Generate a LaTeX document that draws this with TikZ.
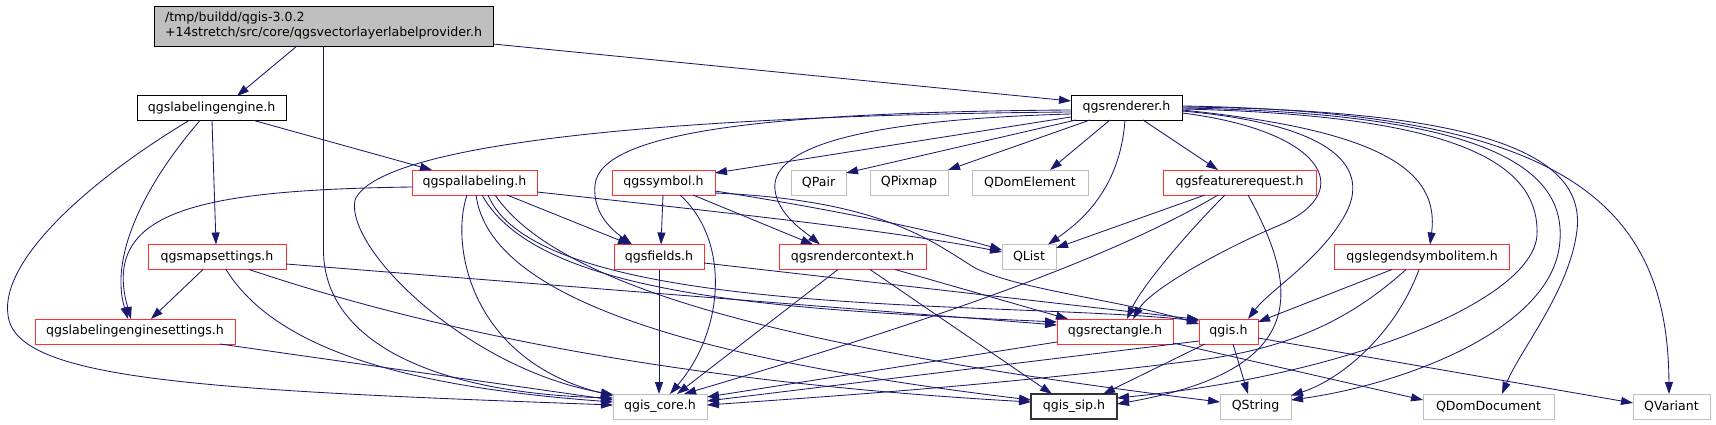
\documentclass[tikz,border=0pt]{standalone}
\usepackage{fontspec}
\setmainfont{DejaVu Sans}
\usetikzlibrary{arrows.meta}
\definecolor{edgec}{HTML}{191970}
\definecolor{redb}{HTML}{FF3030}
\definecolor{grayb}{HTML}{BFBFBF}
\begin{document}
\begin{tikzpicture}[x=1pt,y=-1pt,
  nbox/.style={draw, rectangle, inner sep=0pt, minimum height=25pt, font=\fontsize{12.6}{15}\selectfont, line width=0.9pt},
  redbox/.style={nbox, draw=redb},
  graybox/.style={nbox, draw=grayb},
  blackbox/.style={nbox, draw=black},
  sipbox/.style={nbox, draw=black!80, line width=1.5pt},
  conn/.style={draw=edgec, line width=0.85pt, -{Triangle[length=12pt,width=8pt]}},
]
\useasboundingbox (0,0) rectangle (1716,425);
% nodes
\node[nbox, fill=grayb, draw=black, minimum width=339pt, minimum height=40pt, align=left] (root) at (323.5,26) {/tmp/buildd/qgis-3.0.2\\+14stretch/src/core/qgsvectorlayerlabelprovider.h};
\node[blackbox, minimum width=149pt] (le) at (211.5,108) {qgslabelingengine.h};
\node[blackbox, minimum width=111pt] (rd) at (1126.5,107.5) {qgsrenderer.h};
\node[redbox, minimum width=125pt] (pal) at (474.5,182.5) {qgspallabeling.h};
\node[redbox, minimum width=103pt] (sym) at (663.5,182.5) {qgssymbol.h};
\node[graybox, minimum width=55pt] (qpair) at (818.5,182.5) {QPair};
\node[graybox, minimum width=78pt] (qpix) at (909,182.5) {QPixmap};
\node[graybox, minimum width=116pt] (qdome) at (1030,182.5) {QDomElement};
\node[redbox, minimum width=153pt] (fr) at (1239.5,182.5) {qgsfeaturerequest.h};
\node[redbox, minimum width=138pt] (ms) at (217,257) {qgsmapsettings.h};
\node[redbox, minimum width=90pt] (fld) at (659,257) {qgsfields.h};
\node[redbox, minimum width=147pt] (rc) at (852.5,257) {qgsrendercontext.h};
\node[graybox, minimum width=54pt] (ql) at (1029,257) {QList};
\node[redbox, minimum width=175pt] (lsi) at (1422,257) {qgslegendsymbolitem.h};
\node[redbox, minimum width=200pt] (les) at (135,331.5) {qgslabelingenginesettings.h};
\node[redbox, minimum width=116pt] (rect) at (1115,331.5) {qgsrectangle.h};
\node[redbox, minimum width=59pt] (qgis) at (1228.5,331.5) {qgis.h};
\node[graybox, minimum width=94pt] (core) at (660,406.5) {qgis\_core.h};
\node[sipbox, minimum width=86pt] (sip) at (1074,406.5) {qgis\_sip.h};
\node[graybox, minimum width=71pt] (qstr) at (1255.5,406.5) {QString};
\node[graybox, minimum width=131pt] (qdd) at (1488.5,406.5) {QDomDocument};
\node[graybox, minimum width=77pt] (qvar) at (1671.5,406.5) {QVariant};
% root
\draw[conn] ([shift={(-26.5,20)}]root.center) -- ([shift={(25.5,-12)}]le.center);
\draw[conn] (root.south) -- (323.5,250) .. controls (323.5,340) and (430,393) .. ([shift={(-47,-8.5)}]core.center);
\draw[conn] ([shift={(169.5,18)}]root.center) -- ([shift={(-55.5,-6.5)}]rd.center);
% labeling engine
\draw[conn] ([shift={(42.5,12.5)}]le.center) -- ([shift={(-42.5,-12.5)}]pal.center);
\draw[conn] ([shift={(0.5,12.5)}]le.center) -- ([shift={(-1,-12.5)}]ms.center);
\draw[conn] ([shift={(-11.5,12.5)}]le.center) .. controls (140,190) and (110,260) .. ([shift={(-7,-12.5)}]les.center);
\draw[conn] ([shift={(-22.5,12.5)}]le.center) .. controls (90,180) and (0,260) .. (8,315) .. controls (15,380) and (200,390) .. ([shift={(-47,-1.5)}]core.center);
% pallabeling
\draw[conn] ([shift={(-62.5,4.5)}]pal.center) .. controls (200,190) and (100,210) .. ([shift={(-4,-12.5)}]les.center);
\draw[conn] ([shift={(62.5,9.5)}]pal.center) .. controls (750,215) and (900,232) .. ([shift={(-27,-5)}]ql.center);
\draw[conn] ([shift={(32.5,12.5)}]pal.center) -- ([shift={(-29,-12.5)}]fld.center);
\draw[conn] ([shift={(-7.5,12.5)}]pal.center) .. controls (450,245) and (470,360) .. ([shift={(-47,-10.5)}]core.center);
\draw[conn] ([shift={(1.5,12.5)}]pal.center) .. controls (490,300) and (700,360) .. ([shift={(-43,-6.5)}]sip.center);
\draw[conn] ([shift={(7.5,12.5)}]pal.center) .. controls (540,300) and (800,310) .. ([shift={(-58,-9.5)}]rect.center);
\draw[conn] ([shift={(13.5,12.5)}]pal.center) .. controls (540,320) and (1000,300) .. ([shift={(-29.5,-10.5)}]qgis.center);
\draw[conn] ([shift={(20.5,12.5)}]pal.center) .. controls (560,290) and (800,350) .. ([shift={(-35.5,-4.5)}]qstr.center);
% map settings
\draw[conn] ([shift={(-14,12.5)}]ms.center) -- ([shift={(16,-12.5)}]les.center);
\draw[conn] ([shift={(9,12.5)}]ms.center) .. controls (270,340) and (380,385) .. ([shift={(-47,-4.5)}]core.center);
\draw[conn] ([shift={(32,12.5)}]ms.center) .. controls (400,320) and (640,380) .. ([shift={(-43,-4.5)}]sip.center);
\draw[conn] ([shift={(69,7)}]ms.center) -- ([shift={(-58,-6.5)}]rect.center);
\draw[conn] ([shift={(85,12.5)}]les.center) -- ([shift={(-47,-6.5)}]core.center);
% renderer
\draw[conn] ([shift={(-55.5,4.5)}]rd.center) .. controls (700,115) and (380,140) .. (355,200) .. controls (345,250) and (470,370) .. ([shift={(-47,-12)}]core.center);
\draw[conn] ([shift={(-55.5,9.5)}]rd.center) -- ([shift={(51.5,-9.5)}]sym.center);
\draw[conn] ([shift={(-50.5,12.5)}]rd.center) -- ([shift={(27.5,-9.5)}]qpair.center);
\draw[conn] ([shift={(-36.5,12.5)}]rd.center) -- ([shift={(39,-12.5)}]qpix.center);
\draw[conn] ([shift={(-16.5,12.5)}]rd.center) -- ([shift={(20,-12.5)}]qdome.center);
\draw[conn] ([shift={(-1.5,12.5)}]rd.center) .. controls (1120,190) and (1080,222) .. ([shift={(19,-12.5)}]ql.center);
\draw[conn] ([shift={(-55.5,2.5)}]rd.center) .. controls (780,112) and (600,130) .. (595,185) .. controls (592,215) and (615,232) .. ([shift={(-27,-12.5)}]fld.center);
\draw[conn] ([shift={(-55.5,6.5)}]rd.center) .. controls (850,120) and (770,150) .. (775,190) .. controls (778,215) and (805,232) .. ([shift={(-32.5,-12.5)}]rc.center);
\draw[conn] ([shift={(16.5,12.5)}]rd.center) -- ([shift={(-21.5,-12.5)}]fr.center);
\draw[conn] ([shift={(55.5,2.5)}]rd.center) .. controls (1380,130) and (1440,170) .. ([shift={(8,-12.5)}]lsi.center);
\draw[conn] ([shift={(55.5,5.5)}]rd.center) .. controls (1320,130) and (1360,190) .. (1280,225) .. controls (1220,250) and (1150,290) .. ([shift={(18,-12.5)}]rect.center);
\draw[conn] ([shift={(55.5,3.5)}]rd.center) .. controls (1340,125) and (1370,170) .. (1345,215) .. controls (1320,260) and (1270,290) .. ([shift={(19.5,-12.5)}]qgis.center);
\draw[conn] ([shift={(55.5,1.5)}]rd.center) .. controls (1450,115) and (1540,160) .. (1537,235) .. controls (1533,300) and (1350,375) .. ([shift={(43,-8.5)}]sip.center);
\draw[conn] ([shift={(55.5,0.5)}]rd.center) .. controls (1480,113) and (1565,165) .. (1560,240) .. controls (1555,330) and (1400,385) .. ([shift={(35.5,-6.5)}]qstr.center);
\draw[conn] ([shift={(55.5,-0.5)}]rd.center) .. controls (1500,110) and (1585,160) .. (1577,230) .. controls (1570,290) and (1520,350) .. ([shift={(13.5,-12.5)}]qdd.center);
\draw[conn] ([shift={(55.5,-1.5)}]rd.center) .. controls (1560,112) and (1668,200) .. ([shift={(-2.5,-12.5)}]qvar.center);
% legend symbol item
\draw[conn] ([shift={(-30,12.5)}]lsi.center) -- ([shift={(29.5,-9.5)}]qgis.center);
\draw[conn] ([shift={(-16,12.5)}]lsi.center) .. controls (1350,320) and (1290,348) .. (1200,360) .. controls (1000,385) and (850,395) .. ([shift={(47,-1.5)}]core.center);
\draw[conn] ([shift={(-3,12.5)}]lsi.center) .. controls (1395,335) and (1340,380) .. ([shift={(35.5,-11)}]qstr.center);
% feature request
\draw[conn] ([shift={(-34.5,12.5)}]fr.center) -- ([shift={(27,-9)}]ql.center);
\draw[conn] ([shift={(-21.5,12.5)}]fr.center) .. controls (1100,265) and (900,330) .. ([shift={(24,-12.5)}]core.center);
\draw[conn] ([shift={(-14.5,12.5)}]fr.center) .. controls (1180,240) and (1140,290) .. ([shift={(12,-12.5)}]rect.center);
\draw[conn] ([shift={(8.5,12.5)}]fr.center) .. controls (1300,290) and (1310,370) .. ([shift={(43,-2.5)}]sip.center);
% symbol
\draw[conn] ([shift={(-0.5,12.5)}]sym.center) -- ([shift={(2,-12.5)}]fld.center);
\draw[conn] ([shift={(29.5,12.5)}]sym.center) -- ([shift={(-39.5,-12.5)}]rc.center);
\draw[conn] ([shift={(51.5,8.5)}]sym.center) .. controls (850,212) and (950,235) .. ([shift={(-27,-7)}]ql.center);
\draw[conn] ([shift={(51.5,10.5)}]sym.center) .. controls (880,200) and (930,240) .. (975,268) .. controls (1020,290) and (1120,300) .. ([shift={(-29.5,-7.5)}]qgis.center);
\draw[conn] ([shift={(16.5,12.5)}]sym.center) .. controls (730,240) and (725,330) .. ([shift={(10,-12.5)}]core.center);
% fields
\draw[conn] (fld.south) -- ([shift={(-1,-12.5)}]core.center);
\draw[conn] ([shift={(45,6)}]fld.center) -- ([shift={(-29.5,-12)}]qgis.center);
% render context
\draw[conn] ([shift={(-14.5,12.5)}]rc.center) -- ([shift={(17,-12.5)}]core.center);
\draw[conn] ([shift={(17.5,12.5)}]rc.center) -- ([shift={(-22,-12.5)}]sip.center);
\draw[conn] ([shift={(42.5,12.5)}]rc.center) -- ([shift={(-47,-12.5)}]rect.center);
% rectangle
\draw[conn] ([shift={(-58,10.5)}]rect.center) -- ([shift={(47,-9.5)}]core.center);
\draw[conn] ([shift={(58,11.5)}]rect.center) -- ([shift={(-65.5,-6.5)}]qdd.center);
% qgis.h
\draw[conn] ([shift={(-29.5,9.5)}]qgis.center) -- ([shift={(47,-5.5)}]core.center);
\draw[conn] ([shift={(-23.5,12.5)}]qgis.center) -- ([shift={(29,-12.5)}]sip.center);
\draw[conn] ([shift={(4.5,12.5)}]qgis.center) -- ([shift={(-7.5,-12.5)}]qstr.center);
\draw[conn] ([shift={(29.5,6.5)}]qgis.center) -- ([shift={(-38.5,-3.5)}]qvar.center);
\end{tikzpicture}
\end{document}
